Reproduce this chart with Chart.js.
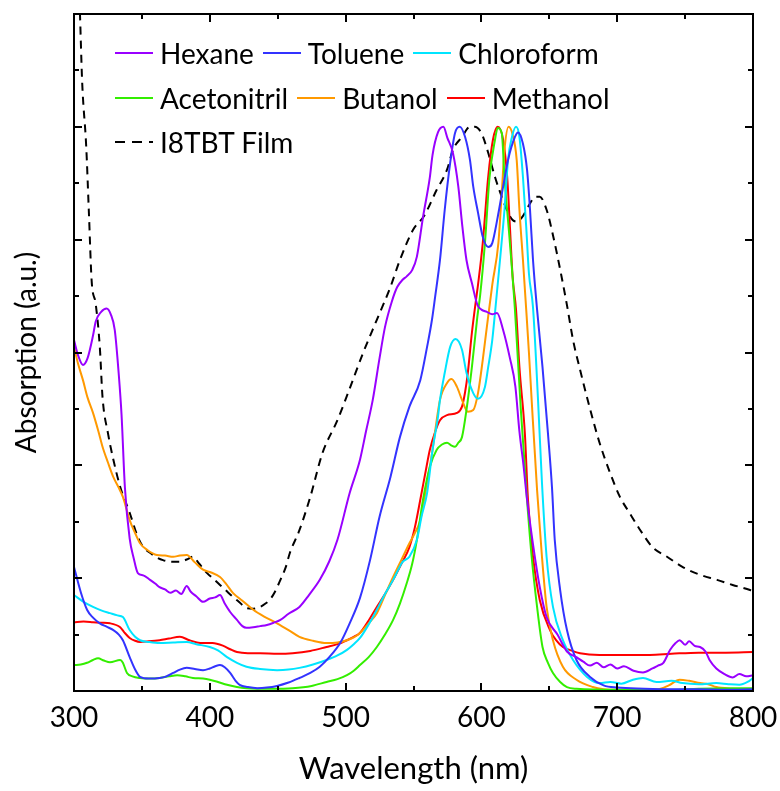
<!DOCTYPE html>
<html>
<head>
<meta charset="utf-8">
<title>Absorption spectra</title>
<script src="https://cdn.jsdelivr.net/npm/chart.js@4.4.1/dist/chart.umd.min.js"></script>
<style>
  body { margin: 0; background: #fff; }
  #wrap { position: relative; width: 780px; height: 791px; }
  #legend { position: absolute; left: 115px; top: 31px; font: 28px Lato, sans-serif; color: #000; }
  .row { display: flex; align-items: center; height: 44.5px; white-space: nowrap; }
  .item { display: flex; align-items: center; margin-right: 9px; }
  .swatch { width: 38px; height: 2px; margin-right: 7px; }
</style>
</head>
<body>
<div id="wrap">
  <canvas id="myChart" width="780" height="791"></canvas>
  <div id="legend"></div>
</div>
<script>
const seriesNames = ["Hexane", "Toluene", "Chloroform", "Acetonitril", "Butanol", "Methanol", "I8TBT Film"];
const seriesColors = ["#9900ff", "#3333ff", "#00e5ff", "#33ee00", "#ff9900", "#ff0000", "#000000"];
const legendRows = [[0, 1, 2], [3, 4, 5], [6]];

const hexaneWl = [300, 303, 306.6, 310, 314, 316, 320, 324, 327, 330, 333, 335, 337.5, 341, 344, 347, 351, 356, 360, 363, 367, 371, 375, 379, 383, 386, 390, 395, 400, 404, 407.5, 411, 415, 420, 424, 427, 432, 437, 442, 447, 452, 458, 466, 473, 481, 488, 494, 503, 510.6, 515, 520, 525, 529, 534, 538, 542, 545, 549, 552.5, 557, 562, 564, 568, 572, 575, 579, 583, 586, 589, 593, 597, 600, 604, 608, 611.5, 616, 621, 625, 628, 631, 633.6, 638, 643, 648, 656, 663, 670, 675, 680, 685, 690, 695, 700, 705, 712, 719, 726, 730, 734, 739, 743, 746, 750, 753, 757, 761, 765, 768, 773, 779, 785, 790, 795, 800];
const hexaneAbs = [0.622, 0.595, 0.578, 0.59, 0.63, 0.655, 0.672, 0.678, 0.668, 0.64, 0.56, 0.49, 0.36, 0.27, 0.235, 0.209, 0.205, 0.197, 0.19, 0.184, 0.18, 0.174, 0.178, 0.172, 0.186, 0.176, 0.168, 0.158, 0.164, 0.166, 0.17, 0.155, 0.14, 0.126, 0.115, 0.112, 0.113, 0.115, 0.117, 0.121, 0.126, 0.137, 0.149, 0.17, 0.197, 0.23, 0.268, 0.351, 0.41, 0.46, 0.516, 0.59, 0.645, 0.69, 0.716, 0.729, 0.735, 0.746, 0.77, 0.84, 0.91, 0.95, 0.99, 1.0, 0.98, 0.954, 0.894, 0.823, 0.764, 0.723, 0.685, 0.676, 0.672, 0.668, 0.67, 0.64, 0.59, 0.54, 0.46, 0.40, 0.34, 0.26, 0.184, 0.131, 0.10, 0.07, 0.06, 0.052, 0.045, 0.05, 0.042, 0.047, 0.04, 0.044, 0.036, 0.033, 0.04, 0.045, 0.05, 0.073, 0.085, 0.09, 0.082, 0.088, 0.08, 0.078, 0.07, 0.055, 0.04, 0.03, 0.024, 0.03, 0.026, 0.028];

const tolueneWl = [300, 305, 309.6, 314, 319, 324, 329, 333, 336, 341, 345, 348.6, 355, 363, 368, 373, 378, 383, 389, 395, 400, 404, 407.5, 411, 415, 419, 422, 428, 435, 442, 449.5, 458, 466, 474, 481, 488, 496, 503, 510.6, 518, 525, 533, 540, 547, 555, 560, 563.6, 566, 569.5, 573, 577, 580.6, 584, 588, 591.6, 594, 597.5, 601, 605, 608, 612, 616, 619.6, 624.7, 627, 630.6, 633.6, 635.8, 638, 641, 645, 649, 652, 654, 658, 663, 670, 680, 690, 700, 720, 740, 760, 780, 800];
const tolueneAbs = [0.22, 0.175, 0.144, 0.13, 0.12, 0.114, 0.108, 0.10, 0.09, 0.06, 0.038, 0.025, 0.022, 0.023, 0.026, 0.032, 0.038, 0.041, 0.039, 0.037, 0.04, 0.044, 0.046, 0.042, 0.032, 0.018, 0.011, 0.007, 0.005, 0.006, 0.009, 0.015, 0.023, 0.032, 0.043, 0.06, 0.085, 0.12, 0.165, 0.232, 0.309, 0.379, 0.45, 0.504, 0.551, 0.61, 0.658, 0.70, 0.764, 0.853, 0.936, 0.989, 1.0, 0.982, 0.941, 0.894, 0.848, 0.805, 0.787, 0.794, 0.84, 0.894, 0.941, 0.982, 0.99, 0.97, 0.924, 0.853, 0.764, 0.676, 0.574, 0.457, 0.36, 0.268, 0.179, 0.108, 0.055, 0.025, 0.01, 0.006, 0.004, 0.003, 0.003, 0.002, 0.003];

const chloroformWl = [300, 307, 314, 320, 326.5, 332, 336, 341, 345, 348.6, 355, 363, 373, 383, 390, 400, 406, 412.7, 420, 427, 437, 449.5, 458, 466, 476, 486, 494, 501, 506, 510.6, 517, 523, 529, 535, 542, 547, 552.5, 556, 560, 564, 568, 569.5, 573, 577, 581, 585.7, 589, 594, 597.5, 602.6, 605, 608, 610, 613.7, 617, 619.6, 622.5, 625.5, 628, 630.6, 633, 635, 638, 641.7, 644.6, 648, 652.7, 660, 667.5, 677.8, 687, 695, 703, 711.6, 719, 729, 740, 748, 760, 773, 782, 790, 796, 800];
const chloroformAbs = [0.17, 0.158, 0.149, 0.143, 0.138, 0.134, 0.131, 0.108, 0.096, 0.09, 0.087, 0.085, 0.086, 0.087, 0.083, 0.078, 0.072, 0.06, 0.05, 0.043, 0.039, 0.037, 0.038, 0.041, 0.047, 0.055, 0.063, 0.073, 0.083, 0.094, 0.118, 0.144, 0.172, 0.197, 0.229, 0.238, 0.268, 0.31, 0.351, 0.427, 0.486, 0.516, 0.564, 0.61, 0.624, 0.605, 0.564, 0.528, 0.518, 0.539, 0.574, 0.622, 0.67, 0.764, 0.853, 0.941, 0.982, 1.0, 0.982, 0.911, 0.823, 0.74, 0.68, 0.516, 0.369, 0.238, 0.149, 0.09, 0.055, 0.025, 0.014, 0.016, 0.013, 0.02, 0.023, 0.016, 0.018, 0.014, 0.012, 0.014, 0.012, 0.011, 0.016, 0.023];

const acetonitrilWl = [300, 305, 309.6, 314, 317.7, 322, 326.5, 334, 336, 339, 343, 348.6, 356, 363, 370, 376, 382, 387.6, 395, 400, 406, 412.7, 420, 427, 445, 461, 475, 486, 494, 501, 506, 510.6, 517, 523, 529, 535, 540, 545, 549, 552.5, 557, 562, 567, 571, 574.7, 578, 580.6, 583, 585.7, 589, 593, 597, 599, 602.6, 606, 610, 612, 615, 617, 621, 624.7, 629, 633.6, 637, 641, 645, 649, 652.7, 658, 663, 670, 700, 740, 760, 800];
const acetonitrilAbs = [0.046, 0.047, 0.05, 0.055, 0.058, 0.054, 0.051, 0.055, 0.05, 0.032, 0.026, 0.023, 0.022, 0.023, 0.026, 0.028, 0.026, 0.023, 0.022, 0.02, 0.016, 0.011, 0.007, 0.005, 0.004, 0.005, 0.009, 0.016, 0.021, 0.028, 0.036, 0.046, 0.06, 0.078, 0.1, 0.126, 0.155, 0.191, 0.225, 0.268, 0.339, 0.397, 0.427, 0.437, 0.44, 0.435, 0.433, 0.44, 0.45, 0.498, 0.574, 0.663, 0.70, 0.794, 0.911, 0.977, 0.998, 0.989, 0.911, 0.794, 0.676, 0.5, 0.339, 0.238, 0.149, 0.078, 0.05, 0.032, 0.016, 0.007, 0.004, 0.002, 0.002, 0.004, 0.005];

const butanolWl = [300, 303, 306.6, 310, 314, 318, 321, 325, 329, 333, 336, 341, 345, 348.6, 354, 361, 367, 373, 378, 383, 389, 395, 401, 407.5, 412, 417, 424, 432, 440, 449.5, 458, 466, 476, 486, 494, 501, 506, 510.6, 517, 523, 529, 535, 541, 547, 551, 555, 560, 564, 569.5, 574.7, 578, 582, 585.7, 590, 594, 597.5, 601, 604, 608, 612.5, 615, 617, 620, 623, 626, 628, 630.6, 633, 635, 637, 641, 644.6, 648, 652.7, 660, 670, 682, 690, 700, 715, 730, 738, 746, 753, 761, 767, 773, 785, 800];
const butanolAbs = [0.61, 0.58, 0.551, 0.52, 0.493, 0.46, 0.433, 0.405, 0.379, 0.36, 0.344, 0.303, 0.28, 0.262, 0.25, 0.241, 0.24, 0.238, 0.24, 0.241, 0.228, 0.215, 0.21, 0.202, 0.19, 0.174, 0.16, 0.144, 0.132, 0.12, 0.108, 0.096, 0.089, 0.085, 0.086, 0.09, 0.095, 0.103, 0.12, 0.138, 0.17, 0.202, 0.232, 0.262, 0.28, 0.303, 0.369, 0.427, 0.516, 0.546, 0.553, 0.539, 0.516, 0.495, 0.498, 0.528, 0.587, 0.645, 0.72, 0.794, 0.883, 0.959, 1.0, 0.986, 0.941, 0.853, 0.764, 0.676, 0.6, 0.516, 0.356, 0.238, 0.149, 0.09, 0.043, 0.02, 0.007, 0.003, 0.002, 0.002, 0.003, 0.01, 0.02, 0.018, 0.014, 0.012, 0.007, 0.004, 0.002];

const methanolWl = [300, 307, 314, 320, 326.5, 334, 337, 341, 345, 348.6, 355, 363, 370, 378, 385, 393, 402, 410, 415, 420, 428, 437, 450, 461, 474, 486, 494, 501, 506, 510.6, 517, 523, 529, 535, 541, 547, 551, 555, 559, 562, 566, 569.5, 574.7, 582, 585.7, 588, 590, 593, 596, 597.5, 601, 605, 608.5, 612, 616, 619, 621, 623, 625.5, 628, 632, 634.3, 638, 643, 650.5, 655, 660, 666, 672.6, 687, 700, 724, 740, 760, 780, 800];
const methanolAbs = [0.122, 0.123, 0.122, 0.121, 0.12, 0.113, 0.104, 0.094, 0.089, 0.087, 0.088, 0.09, 0.093, 0.096, 0.09, 0.085, 0.085, 0.08, 0.074, 0.069, 0.067, 0.067, 0.066, 0.067, 0.071, 0.078, 0.083, 0.09, 0.096, 0.103, 0.125, 0.149, 0.172, 0.197, 0.225, 0.255, 0.29, 0.339, 0.39, 0.427, 0.46, 0.48, 0.489, 0.493, 0.504, 0.53, 0.564, 0.635, 0.693, 0.72, 0.794, 0.911, 0.977, 1.0, 0.977, 0.911, 0.823, 0.734, 0.676, 0.574, 0.457, 0.339, 0.238, 0.161, 0.108, 0.09, 0.078, 0.072, 0.067, 0.064, 0.064, 0.064, 0.066, 0.068, 0.068, 0.069];

const filmWl = [300, 304.4, 306, 309, 311, 313, 316, 319, 321, 325, 329, 334, 341, 347, 351, 356, 360, 365.5, 372, 378, 383, 387.6, 392, 398, 403, 407.5, 412, 417, 422, 427, 432, 437, 441, 444, 448, 452, 456, 459, 466, 474, 483, 494, 503, 513, 523, 533, 540, 549.6, 558, 567, 574.7, 579, 585.7, 591.6, 595, 600, 605, 610, 615, 619.6, 623, 626, 630, 636, 639.5, 643, 648, 652.7, 658, 663, 667.5, 672.6, 680, 687, 694.7, 702, 709, 717, 726, 736.7, 748, 761, 773.5, 785, 797.8, 800];
const filmAbs = [1.5, 1.2, 1.08, 0.965, 0.846, 0.727, 0.686, 0.61, 0.521, 0.457, 0.41, 0.362, 0.316, 0.273, 0.255, 0.245, 0.238, 0.232, 0.229, 0.229, 0.233, 0.238, 0.226, 0.209, 0.198, 0.188, 0.178, 0.167, 0.157, 0.147, 0.146, 0.149, 0.155, 0.161, 0.176, 0.197, 0.22, 0.245, 0.285, 0.344, 0.422, 0.48, 0.536, 0.6, 0.658, 0.716, 0.764, 0.817, 0.843, 0.888, 0.924, 0.959, 0.982, 1.0, 1.0, 0.989, 0.954, 0.911, 0.876, 0.848, 0.835, 0.832, 0.84, 0.865, 0.876, 0.876, 0.853, 0.808, 0.747, 0.684, 0.622, 0.57, 0.5, 0.44, 0.387, 0.344, 0.316, 0.285, 0.255, 0.238, 0.22, 0.206, 0.197, 0.188, 0.179, 0.177];

const allWl = [hexaneWl, tolueneWl, chloroformWl, acetonitrilWl, butanolWl, methanolWl, filmWl];
const allAbs = [hexaneAbs, tolueneAbs, chloroformAbs, acetonitrilAbs, butanolAbs, methanolAbs, filmAbs];

Chart.defaults.font.family = "Lato, sans-serif";
Chart.defaults.font.size = 28;
Chart.defaults.color = "#000";

const datasets = seriesNames.map((name, i) => ({
  label: name,
  data: allWl[i].map((w, j) => ({ x: w, y: allAbs[i][j] })),
  borderColor: seriesColors[i],
  backgroundColor: seriesColors[i],
  borderWidth: 2,
  borderDash: i === 6 ? [8, 6] : [],
  pointRadius: 0,
  cubicInterpolationMode: "monotone",
}));

// frame + inward ticks, like the original plot
const frame = {
  id: "frame",
  afterDraw(chart) {
    const { ctx, chartArea: a, scales } = chart;
    ctx.save();
    ctx.strokeStyle = "#000";
    ctx.lineWidth = 2;
    ctx.beginPath();
    scales.x.ticks.forEach((t) => {
      const px = Math.round(scales.x.getPixelForValue(t.value));
      const len = t.value % 100 === 0 ? 8 : 5;
      ctx.moveTo(px, a.bottom); ctx.lineTo(px, a.bottom - len);
      ctx.moveTo(px, a.top); ctx.lineTo(px, a.top + len);
    });
    scales.y.ticks.forEach((t) => {
      const py = Math.round(scales.y.getPixelForValue(t.value));
      const len = Math.round(t.value * 10) % 2 === 0 ? 8 : 5;
      ctx.moveTo(a.left, py); ctx.lineTo(a.left + len, py);
      ctx.moveTo(a.right, py); ctx.lineTo(a.right - len, py);
    });
    ctx.stroke();
    ctx.strokeRect(a.left, a.top, a.right - a.left, a.bottom - a.top);
    ctx.restore();
  },
};

new Chart(document.getElementById("myChart"), {
  type: "line",
  data: { datasets },
  options: {
    responsive: false,
    animation: false,
    devicePixelRatio: 1,
    layout: { padding: { top: 14, right: 27, left: 0, bottom: 0 } },
    plugins: { legend: { display: false }, tooltip: { enabled: false } },
    scales: {
      x: {
        type: "linear",
        min: 300,
        max: 800,
        grid: { display: false, drawTicks: false },
        border: { display: false },
        ticks: {
          stepSize: 50,
          autoSkip: false,
          maxRotation: 0,
          padding: 10,
          callback: (v) => (v % 100 === 0 ? String(v) : ""),
        },
        title: { display: true, text: "Wavelength (nm)", font: { size: 31 }, padding: { top: 0, bottom: 3 } },
        afterFit: (scale) => {
          scale.height = 100;
          scale.paddingLeft = 0;
          scale.paddingRight = 0;
        },
      },
      y: {
        min: 0,
        max: 1.2,
        grid: { display: false, drawTicks: false },
        border: { display: false },
        ticks: { stepSize: 0.1, display: false },
        title: { display: true, text: "Absorption (a.u.)", padding: { top: 10, bottom: 0 } },
        afterFit: (scale) => { scale.width = 74; },
      },
    },
  },
  plugins: [frame],
});

// legend drawn as html inside the plot, three per row
const legend = document.getElementById("legend");
legendRows.forEach((row) => {
  const rowEl = document.createElement("div");
  rowEl.className = "row";
  row.forEach((i) => {
    const c = seriesColors[i];
    const bg = i === 6
      ? `repeating-linear-gradient(to right, ${c} 0 10px, transparent 10px 17px)`
      : c;
    const item = document.createElement("div");
    item.className = "item";
    item.innerHTML = `<span class="swatch" style="background:${bg}"></span><span>${seriesNames[i]}</span>`;
    rowEl.appendChild(item);
  });
  legend.appendChild(rowEl);
});
</script>
</body>
</html>
